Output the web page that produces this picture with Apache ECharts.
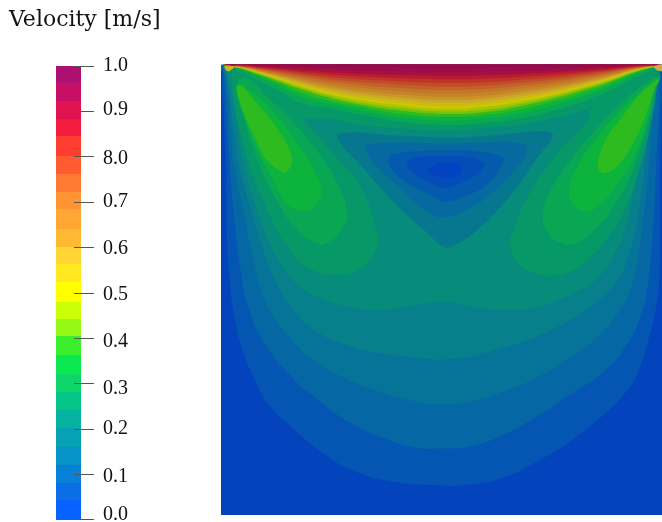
<!DOCTYPE html>
<html><head><meta charset="utf-8">
<style>html,body{margin:0;padding:0;background:#fff}#c{width:662px;height:522px}</style>
<script src="https://cdn.jsdelivr.net/npm/echarts@6/dist/echarts.min.js"></script>
</head><body><div id="c"></div>
<script>
// Legend: tick labels (as printed), tick values and read band edges
const tickValues = [1.0,0.9,0.8,0.7,0.6,0.5,0.4,0.3,0.2,0.1,0.0];
const tickLabels = ['1.0','0.9','8.0','0.7','0.6','0.5','0.4','0.3','0.2','0.1','0.0'];
const labelValues = [1.001,0.903,0.796,0.7,0.596,0.496,0.392,0.288,0.2,0.094,0.01];
const legendEdges = [1,.9626,.9229,.8833,.8458,.8018,.7621,.7225,.685,.641,.6013,.5639,.5242,.4802,.4427,.4053,.3634,.3216,.2819,.2423,.2026,.1608,.1211,.0815,.0419,0];
const legendColors = ['#ac1070','#c51066','#e0124f','#f41c3e','#ff3d30','#ff5a30','#ff7a30','#ff9433','#ffa633','#ffb933','#ffd633','#ffe81f','#ffff00','#cbff08','#96f914','#3cef2c','#0ce850','#0dd56a','#04c488','#05b3a0','#06a2b4','#0793c8','#0880d8','#0a6ee6','#0762ff'];

// Field: contour outlines, [distance from left wall, depth below lid]
const wall = [[0,0],[441,0],[441,451],[0,451]];
const rise1 = [[2,0],[1,10],[2,35],[4,75],[5,105],[6,172],[9,219],[14,255],[23,290],[33,313],[46,338],[71,363],[104,390],[134,407],[171,417],[219,421],[249,420],[283,413],[316,397],[349,377],[383,350],[403,330],[416,310],[426,280],[433,253],[438,220],[439,123],[440,45],[440,0]];
const rise2 = [[3,0],[3,10],[5,40],[8,90],[14,160],[20,208],[28,245],[43,278],[71,313],[94,333],[127,357],[161,373],[194,383],[219,384],[249,382],[283,370],[316,352],[349,330],[383,307],[406,280],[419,253],[427,220],[432,165],[435,105],[438,45],[439,10],[439,0]];
const rise3 = [[4,0],[4,12],[7,33],[10,70],[14,105],[22,145],[30,185],[38,220],[49,246],[67,271],[94,297],[127,315],[161,328],[194,337],[219,340],[249,337],[283,327],[316,313],[349,293],[376,273],[396,250],[408,228],[416,200],[421,165],[427,110],[432,55],[436,20],[438,8],[438,0]];
const rise4 = [[6,0],[6,13],[9,33],[13,67],[19,105],[30,145],[41,182],[55,218],[72,245],[94,266],[127,281],[161,289],[194,293],[219,295],[249,292],[283,283],[316,272],[349,255],[376,237],[395,218],[408,190],[417,150],[425,90],[431,40],[436,10],[436,0]];
const rise5 = [[6,0],[6,10],[11,30],[17,67],[24,105],[36,145],[50,182],[66,208],[82,224],[111,238],[134,243],[154,246],[181,243],[201,239],[219,238],[233,238],[256,243],[283,245],[309,244],[333,237],[356,227],[376,214],[392,192],[403,168],[412,130],[422,85],[429,45],[435,15],[435,0]];

const lobeA6 = [[11,10],[17,57],[31,107],[47,147],[67,183],[87,203],[111,210],[134,207],[151,193],[157,177],[156,168],[141,125],[117,95],[94,68],[81,53],[39,5],[14,1]];
const lobeB6 = [[291,169],[289,180],[296,197],[313,208],[329,211],[349,207],[369,193],[389,170],[406,140],[419,103],[429,63],[436,23],[438,7],[419,5],[369,45],[367,55],[334,92],[307,132]];
const lobeA7 = [[16,23],[24,57],[37,97],[54,133],[74,163],[94,178],[107,178],[122,163],[126,147],[117,120],[101,93],[77,63],[51,37],[24,13]];
const lobeB7 = [[322,150],[326,167],[339,178],[356,178],[376,163],[396,137],[413,103],[426,63],[434,27],[438,13],[423,20],[396,43],[373,67],[349,97],[329,127]];
const lobeA8 = [[16,20],[24,53],[37,87],[51,113],[64,137],[81,146],[94,142],[100,128],[94,107],[77,80],[57,53],[34,30]];
const lobeB8 = [[348,127],[353,140],[364,147],[379,140],[396,120],[413,93],[426,57],[434,23],[438,13],[416,30],[396,50],[376,73],[356,103]];
const lobeA9 = [[16,23],[22,47],[34,73],[44,93],[57,105],[64,108],[71,98],[66,80],[51,57],[34,37],[21,22]];
const lobeB9 = [[377,97],[379,107],[386,108],[398,100],[413,77],[426,47],[434,23],[438,15],[419,30],[403,50],[386,73]];

const eddy1 = [[116,72],[131,68],[174,71],[229,73],[257,72],[291,69],[327,67],[332,72],[317,92],[291,129],[257,165],[235,180],[224,183],[207,169],[174,139],[141,102]];
const eddy2 = [[144,82],[146,80],[174,78],[229,79],[257,78],[304,80],[304,92],[281,119],[257,139],[224,153],[201,144],[174,119],[151,97]];
const eddy3 = [[167,96],[174,89],[229,86],[257,87],[281,92],[283,97],[267,119],[244,132],[224,137],[207,129],[184,117],[171,105]];
const eddy4 = [[186,100],[194,93],[229,92],[241,92],[262,98],[259,107],[241,118],[224,123],[207,117],[194,110]];
const eddy5 = [[207,107],[216,99],[229,98],[234,98],[241,105],[237,110],[224,113]];

// Lid bands: depth of each band's lower edge at the same stations along the lid
const lidStations = [5,19,39,59,79,109,139,179,226,269,299,329,359,389,414,429,437];
const lid19 = [2,8,22,38,52,54.5,60,64,66,63,60,54.5,47,35,20,10,3];
const lid18 = [1.5,6,17,27,38,44,50,57,60.5,58,54,47,38,26,13,6,2];
const lid17 = [1.3,4.4,13,22,32,39.5,46,53,56,53.5,49,42,33,22,10,4,1.3];
const lid16 = [1.2,4,11.5,19.5,28,36.5,42.5,49.5,52.5,50,45,38,29.5,19,8.5,3.6,1.2];
const lid15 = [1,3.7,10.3,17.4,24.6,33.4,40,46,49.5,47,41.7,35,26.8,17.2,7.6,3.3,1];
const lid14 = [1,3.4,9.6,16.2,23,31.5,38,43.5,47,44.5,39.5,33,25,16,7,3,1];
const lid13 = [.9,3.1,8.9,15.1,21.4,29.8,35.6,40.9,44.5,41.8,36.9,31.2,23.6,14.7,6.2,2.7,.9];
const lid12 = [.8,2.9,8.3,14.1,19.9,27.8,33.2,38.2,41.5,39,34.4,29.1,22,13.7,5.8,2.5,.8];
const lid11 = [.8,2.7,7.7,13.1,18.5,25.8,30.8,35.4,38.5,36.2,32,27,20.4,12.7,5.4,2.3,.8];
const lid10 = [.7,2.5,7.1,12.1,17,23.8,28.4,32.7,35.5,33.4,29.5,24.9,18.8,11.7,5,2.1,.7];
const lid9 = [.7,2.3,6.5,11.1,15.6,21.8,26,29.9,32.5,30.6,27,22.8,17.2,10.7,4.6,2,.7];
const lid8 = [.6,2,5.8,9.9,13.9,19.4,23.2,26.7,29,27.3,24.1,20.3,15.4,9.6,4.1,1.7,.6];
const lid7 = [.5,1.8,5.1,8.7,12.2,17.1,20.4,23.5,25.5,24,21.2,17.9,13.5,8.4,3.6,1.5,.5];
const lid6 = [.4,1.5,4.4,7.5,10.6,14.7,17.6,20.2,22,20.7,18.3,15.4,11.7,7.3,3.1,1.3,.4];
const lid5 = [.4,1.3,3.7,6.3,8.9,12.4,14.8,17,18.5,17.4,15.4,13,9.8,6.1,2.6,1.1,.4];
const lid4 = [.3,1,3,5.1,7.2,10,12,13.8,15,14.1,12.5,10.5,8,5,2.1,.9,.3];
const lid3 = [.2,.8,2.3,3.9,5.5,7.7,9.2,10.6,11.5,10.8,9.5,8,6.1,3.8,1.6,.7,.2];
const lid2 = [.2,.5,1.5,2.6,3.6,5,6,6.9,7.5,7,6.2,5.3,4,2.5,1,.5,.2];
const lid1 = [.1,.2,.7,1.2,1.7,2.3,2.8,3.2,3.5,3.3,2.9,2.5,1.9,1.2,.5,.2,.1];
const cornerA = [[3,2],[8,1],[13,2],[12,4],[8,7],[5,6]];
const cornerB = [[432,2],[438,0],[441,0],[441,7],[436,6]];

const lidArc = d => [[2,-3]].concat(lidStations.map((x,i)=>[x,d[i]]), [[441,-3]]);
const regions = [
  [wall,'#0344BC',0],[rise1,'#0456B2',.5],[rise2,'#0567A4',.5],[rise3,'#067498',.5],[rise4,'#07808C',.5],[rise5,'#078B7A',.5],
  [lobeA6,'#079868',.5],[lobeB6,'#079868',.5],[lobeA7,'#09A653',.5],[lobeB7,'#09A653',.5],
  [lobeA8,'#0CB33D',.5],[lobeB8,'#0CB33D',.5],[lobeA9,'#2EBB20',.4],[lobeB9,'#2EBB20',.4],
  [eddy1,'#07778F',.4],[eddy2,'#0669A0',.4],[eddy3,'#055AAE',.4],[eddy4,'#044DB8',.5],[eddy5,'#0342C0',.5],
  [lidArc(lid19),'#079868',.5],[lidArc(lid18),'#09A653',.5],[lidArc(lid17),'#0CB33D',.5],[lidArc(lid16),'#2EBB20',.5],
  [lidArc(lid15),'#78C010',.5],[lidArc(lid14),'#A2C606',.5],[lidArc(lid13),'#CCC800',.5],[lidArc(lid12),'#CCB818',.5],
  [lidArc(lid11),'#CCA828',.5],[lidArc(lid10),'#C99428',.5],[lidArc(lid9),'#C68428',.5],[lidArc(lid8),'#C47628',.5],
  [lidArc(lid7),'#C26228',.5],[lidArc(lid6),'#C04C28',.5],[lidArc(lid5),'#C03428',.5],[lidArc(lid4),'#B81C30',.5],
  [lidArc(lid3),'#A80E40',.5],[lidArc(lid2),'#9A0D4C',.5],[lidArc(lid1),'#8A0D56',.5],
  [cornerA,'#C8B820',0],[cornerB,'#D0A848',0]
];

const chart = echarts.init(document.getElementById('c'), null, {renderer:'canvas'});
chart.setOption({
  animation:false,
  backgroundColor:'#fff',
  title:{text:'Velocity [m/s]',left:9,top:9,padding:0,textStyle:{fontFamily:'DejaVu Serif',fontSize:22,fontWeight:'normal',color:'#111'}},
  grid:[
    {left:221,top:64.5,width:441,height:450.5},
    {left:56,top:66,width:100,height:453.5}
  ],
  xAxis:[
    {gridIndex:0,type:'value',min:0,max:441,show:false},
    {gridIndex:1,type:'value',min:0,max:100,show:false}
  ],
  yAxis:[
    {gridIndex:0,type:'value',min:0,max:450.5,inverse:true,show:false},
    {gridIndex:1,type:'value',min:0,max:1,interval:0.1,position:'left',offset:-38,z:6,
     axisLine:{show:false},splitLine:{show:false},axisLabel:{show:false},
     axisTick:{show:true,length:20,lineStyle:{color:'#555',width:1}}}
  ],
  series:[
    {type:'custom',name:'Velocity field',xAxisIndex:0,yAxisIndex:0,clip:true,silent:true,
     data:regions.map((r,i)=>[i]),
     renderItem:(p,api)=>{
       const r=regions[p.dataIndex];
       return {type:'polygon',shape:{points:r[0].map(q=>api.coord(q)),smooth:r[2]},style:{fill:r[1]}};
     }},
    {type:'custom',name:'Legend',xAxisIndex:1,yAxisIndex:1,silent:true,z:1,
     data:legendColors.map((c,i)=>[i]),
     renderItem:(p,api)=>{
       const i=p.dataIndex, a=api.coord([0,legendEdges[i]]), b=api.coord([25,legendEdges[i+1]]);
       const top=Math.round(a[1]), bottom=Math.round(b[1]);
       return {type:'rect',shape:{x:a[0],y:top,width:b[0]-a[0],height:bottom-top},style:{fill:legendColors[i]}};
     }},
    {type:'custom',name:'Legend labels',xAxisIndex:1,yAxisIndex:1,silent:true,z:3,
     data:tickLabels.map((c,i)=>[i]),
     renderItem:(p,api)=>{
       const i=p.dataIndex, a=api.coord([47,labelValues[i]]);
       return {type:'text',x:a[0],y:a[1],style:{text:tickLabels[i],fill:'#111',font:'20px "Liberation Serif"',textAlign:'left',textVerticalAlign:'middle'}};
     }}
  ]
});
</script></body></html>
